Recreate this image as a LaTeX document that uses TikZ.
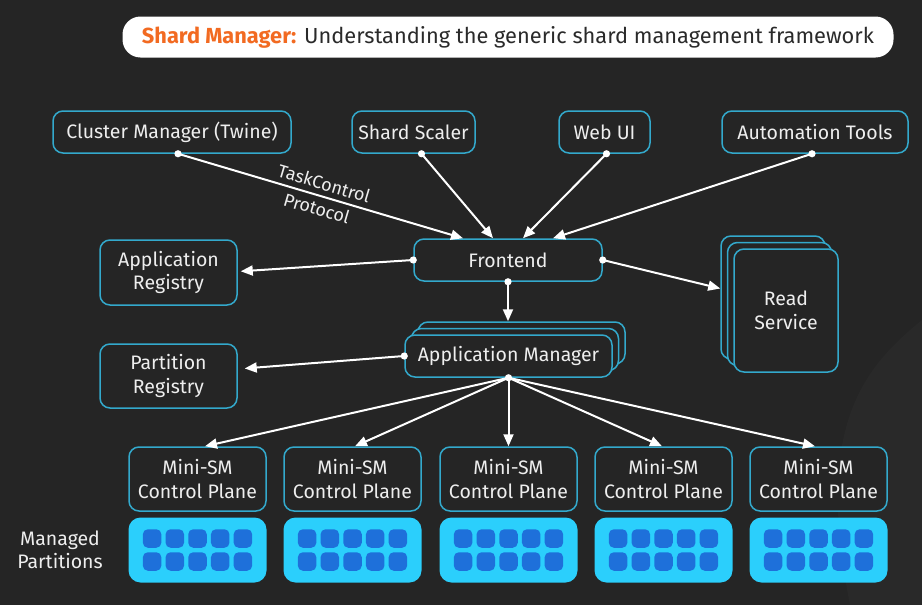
\documentclass[tikz,border=0pt]{standalone}
\usepackage{fontspec}
\setmainfont{Fira Sans}
\usetikzlibrary{arrows.meta,calc}
\definecolor{bg}{HTML}{252525}
\definecolor{bglight}{HTML}{292929}
\definecolor{cyanb}{HTML}{33A9CC}
\definecolor{txt}{HTML}{EEEEEE}
\definecolor{partfill}{HTML}{2BCFFC}
\definecolor{sqblue}{HTML}{1E70DA}
\definecolor{orangett}{HTML}{F26A21}
\definecolor{titletxt}{HTML}{2A2A2A}
\begin{document}
\begin{tikzpicture}[x=1pt,y=-1pt,
  box/.style={draw=cyanb, line width=1.5pt, fill=bg, rounded corners=10pt, text=txt,
    font=\fontsize{19.5}{23.5}\selectfont, align=center, inner sep=0pt},
  partbox/.style={fill=partfill, draw=none, rounded corners=12pt, minimum width=138pt,
    minimum height=65pt, inner sep=0pt},
  sqr/.style={fill=sqblue, draw=none, rounded corners=5pt, minimum size=18.5pt, inner sep=0pt},
  arr/.style={draw=white, line width=2pt, -{Triangle[length=12pt,width=10pt]}},
  dotc/.style={fill=white}
]
\useasboundingbox (0,0) rectangle (922,605);
\fill[bg] (0,0) rectangle (922,605);
\fill[bglight] (922,320) .. controls (860,370) and (815,430) .. (850,605) -- (922,605) -- cycle;

% title
\node[fill=white, rounded corners=18pt, minimum width=771pt, minimum height=41pt, inner sep=0pt,
  font=\fontsize{21.8}{25}\selectfont] (title) at (508,37)
  {{\color{orangett}\bfseries Shard Manager:} {\color{titletxt}Understanding the generic shard management framework}};

% top row
\node[box, minimum width=238pt, minimum height=42pt] (cm) at (172,132) {Cluster Manager (Twine)};
\node[box, minimum width=123pt, minimum height=42pt] (ss) at (413.5,132) {Shard Scaler};
\node[box, minimum width=91pt, minimum height=42pt] (wu) at (604.5,132) {Web UI};
\node[box, minimum width=186pt, minimum height=42pt] (at) at (815,132) {Automation Tools};

% frontend
\node[box, minimum width=188pt, minimum height=42pt] (fe) at (508,260) {Frontend};

% registries
\node[box, minimum width=137pt, minimum height=65pt] (ar) at (168.5,272.5) {Application\\Registry};
\node[box, minimum width=137pt, minimum height=64pt] (pr) at (168.5,376) {Partition\\Registry};

% read service stack
\node[box, minimum width=104pt, minimum height=123pt] (rs3) at (773,297.5) {};
\node[box, minimum width=104pt, minimum height=123pt] (rs2) at (779.5,304) {};
\node[box, minimum width=104pt, minimum height=123pt] (rs) at (786,310.5) {Read\\Service};

% application manager stack
\node[box, minimum width=207pt, minimum height=42pt] (am3) at (521.5,343) {};
\node[box, minimum width=207pt, minimum height=42pt] (am2) at (515,349.5) {};
\node[box, minimum width=207pt, minimum height=42pt] (am) at (508.5,356) {Application Manager};

% mini-SM and partitions
\foreach \i/\x in {1/197.5,2/352.5,3/508.5,4/663.5,5/818.5}{
  \node[box, minimum width=137pt, minimum height=64pt] (m\i) at (\x,479) {Mini-SM\\Control Plane};
  \node[partbox] (p\i) at (\x,550) {};
  \foreach \c in {-2,...,2}{
    \foreach \r in {0,1}{
      \node[sqr] (q\i\c\r) at ($(p\i.center)+(\c*22.7,-11.5+\r*23)$) {};
    }
  }
}

\node[text=txt, font=\fontsize{19.5}{23.5}\selectfont, align=center] (mp) at (60,550) {Managed\\Partitions};

% arrows into frontend
\draw[arr] ([xshift=6pt]cm.south) -- node[midway, sloped, align=center, text=txt, inner sep=0pt,
  font=\fontsize{18}{26}\selectfont] (tcp) {TaskControl\\Protocol} ([xshift=-45pt]fe.north);
\draw[arr] ([xshift=8pt]ss.south) -- ([xshift=-15pt]fe.north);
\draw[arr] ([xshift=2pt]wu.south) -- ([xshift=15pt]fe.north);
\draw[arr] ([xshift=-3pt]at.south) -- ([xshift=45pt]fe.north);

% frontend out
\draw[arr, shorten >=3pt] (fe.west) -- ([yshift=1pt]ar.east);
\draw[arr] (fe.east) -- ([yshift=9pt]rs3.west);
\draw[arr] (fe.south) -- (fe.south |- am3.north);

% application manager out
\draw[arr, shorten >=7pt] (am.west) -- ([yshift=7pt]pr.east);
\draw[arr] (am.south) -- ([xshift=7.5pt]m1.north);
\draw[arr] (am.south) -- ([xshift=2.5pt]m2.north);
\draw[arr] (am.south) -- (m3.north);
\draw[arr] (am.south) -- ([xshift=-1.5pt]m4.north);
\draw[arr] (am.south) -- ([xshift=-3.5pt]m5.north);

% dots
\fill[dotc] ([xshift=6pt]cm.south) circle[radius=3.6pt];
\fill[dotc] ([xshift=8pt]ss.south) circle[radius=3.6pt];
\fill[dotc] ([xshift=2pt]wu.south) circle[radius=3.6pt];
\fill[dotc] ([xshift=-3pt]at.south) circle[radius=3.6pt];
\fill[dotc] (fe.west) circle[radius=3.6pt];
\fill[dotc] (fe.east) circle[radius=3.6pt];
\fill[dotc] (fe.south) circle[radius=3.6pt];
\fill[dotc] (am.west) circle[radius=3.6pt];
\fill[dotc] (am.south) circle[radius=3.6pt];
\end{tikzpicture}
\end{document}
